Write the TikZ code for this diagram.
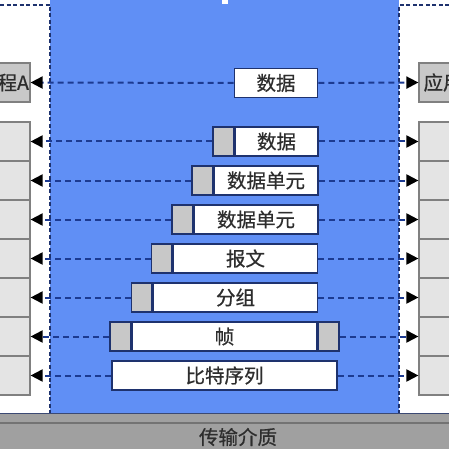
\documentclass[tikz,border=0pt]{standalone}
\usepackage{fontspec}
\newfontfamily\cjk[FakeBold=0.6]{Noto Sans CJK SC}
\usetikzlibrary{arrows.meta}
\definecolor{bluebg}{RGB}{96,143,245}
\definecolor{navy}{RGB}{30,50,110}
\definecolor{dashblue}{RGB}{28,58,145}
\definecolor{hdr}{RGB}{200,200,200}
\definecolor{stackfill}{RGB}{228,228,228}
\definecolor{appfill}{RGB}{200,200,200}
\definecolor{txt}{RGB}{45,45,45}
\definecolor{medium}{RGB}{160,160,160}
\tikzset{
  lbl/.style={font=\cjk\fontsize{19.5}{19.5}\selectfont, text=txt},
  msg/.style={lbl, draw=navy, line width=1.6pt, fill=white, minimum height=29pt, inner sep=0pt},
  hdrbox/.style={draw=navy, line width=1.6pt, fill=hdr, minimum height=29pt, minimum width=20.5pt, inner sep=0pt},
  layerbox/.style={draw=gray, line width=1.2pt, fill=stackfill, minimum height=39pt, minimum width=100pt, inner sep=0pt},
  appbox/.style={lbl, draw=gray, line width=1.2pt, fill=appfill, minimum height=39pt, inner sep=0pt},
  link/.style={dashblue, line width=2pt, dash pattern=on 6pt off 4pt, -{Triangle[length=12pt,width=12pt,color=black]}},
  border/.style={navy, line width=1.5pt, dash pattern=on 4pt off 2.5pt}
}
\begin{document}
\begin{tikzpicture}[x=1pt,y=-1pt]
\useasboundingbox (0,0) rectangle (449,449);
\clip (0,0) rectangle (449,449);
% backgrounds
\fill[white] (0,0) rectangle (449,449);
\fill[bluebg] (50,0) rectangle (399,413);
\fill[white] (222,0) rectangle (228,4);
\draw[border] (0,5) -- (50,5) -- (50,413);
\draw[border] (449,5) -- (399,5) -- (399,413);
% transmission medium
\fill[medium] (0,413) rectangle (449,449);
\draw[navy!70!gray, line width=1.5pt] (0,413.5) -- (449,413.5);
\draw[black!55, line width=2.5pt] (0,423) -- (449,423);
\node[lbl] (medium) at (238,437) {传输介质};
% application processes
\node[appbox, minimum width=92pt] (appA) at (-16,82.5) {应用进程A};
\node[appbox, minimum width=100pt] (appB) at (469,82.5) {应用进程B};
% layer stacks
\foreach \i/\y in {1/141.5,2/180.5,3/219.5,4/258.5,5/297.5,6/336.5,7/375.5}{
  \node[layerbox] (L\i) at (-20,\y) {};
  \node[layerbox] (R\i) at (469,\y) {};
}
% message boxes
\node[msg, minimum width=83pt] (m0) at (276,83) {数据};
\node[msg, minimum width=83pt] (m1) at (276.5,141.5) {数据};
\node[hdrbox, anchor=east] (h1) at (m1.west) {};
\node[msg, minimum width=104pt] (m2) at (266,180.5) {数据单元};
\node[hdrbox, anchor=east] (h2) at (m2.west) {};
\node[msg, minimum width=124pt] (m3) at (256,219.5) {数据单元};
\node[hdrbox, anchor=east] (h3) at (m3.west) {};
\node[msg, minimum width=144pt] (m4) at (245.5,258.5) {报文};
\node[hdrbox, anchor=east] (h4) at (m4.west) {};
\node[msg, minimum width=164pt] (m5) at (235.5,297.5) {分组};
\node[hdrbox, anchor=east] (h5) at (m5.west) {};
\node[msg, minimum width=185pt] (m6) at (224.5,336.5) {帧};
\node[hdrbox, anchor=east] (h6) at (m6.west) {};
\node[hdrbox, anchor=west] (t6) at (m6.east) {};
\node[msg, minimum width=225pt] (m7) at (224.5,375.5) {比特序列};
% connectors
\draw[link] (m0.west) -- (appA.east);
\draw[link] (m0.east) -- (appB.west);
\draw[link] (h1.west) -- (L1.east);
\draw[link] (m1.east) -- (R1.west);
\draw[link] (h2.west) -- (L2.east);
\draw[link] (m2.east) -- (R2.west);
\draw[link] (h3.west) -- (L3.east);
\draw[link] (m3.east) -- (R3.west);
\draw[link] (h4.west) -- (L4.east);
\draw[link] (m4.east) -- (R4.west);
\draw[link] (h5.west) -- (L5.east);
\draw[link] (m5.east) -- (R5.west);
\draw[link] (h6.west) -- (L6.east);
\draw[link] (t6.east) -- (R6.west);
\draw[link] (m7.west) -- (L7.east);
\draw[link] (m7.east) -- (R7.west);
\end{tikzpicture}
\end{document}
